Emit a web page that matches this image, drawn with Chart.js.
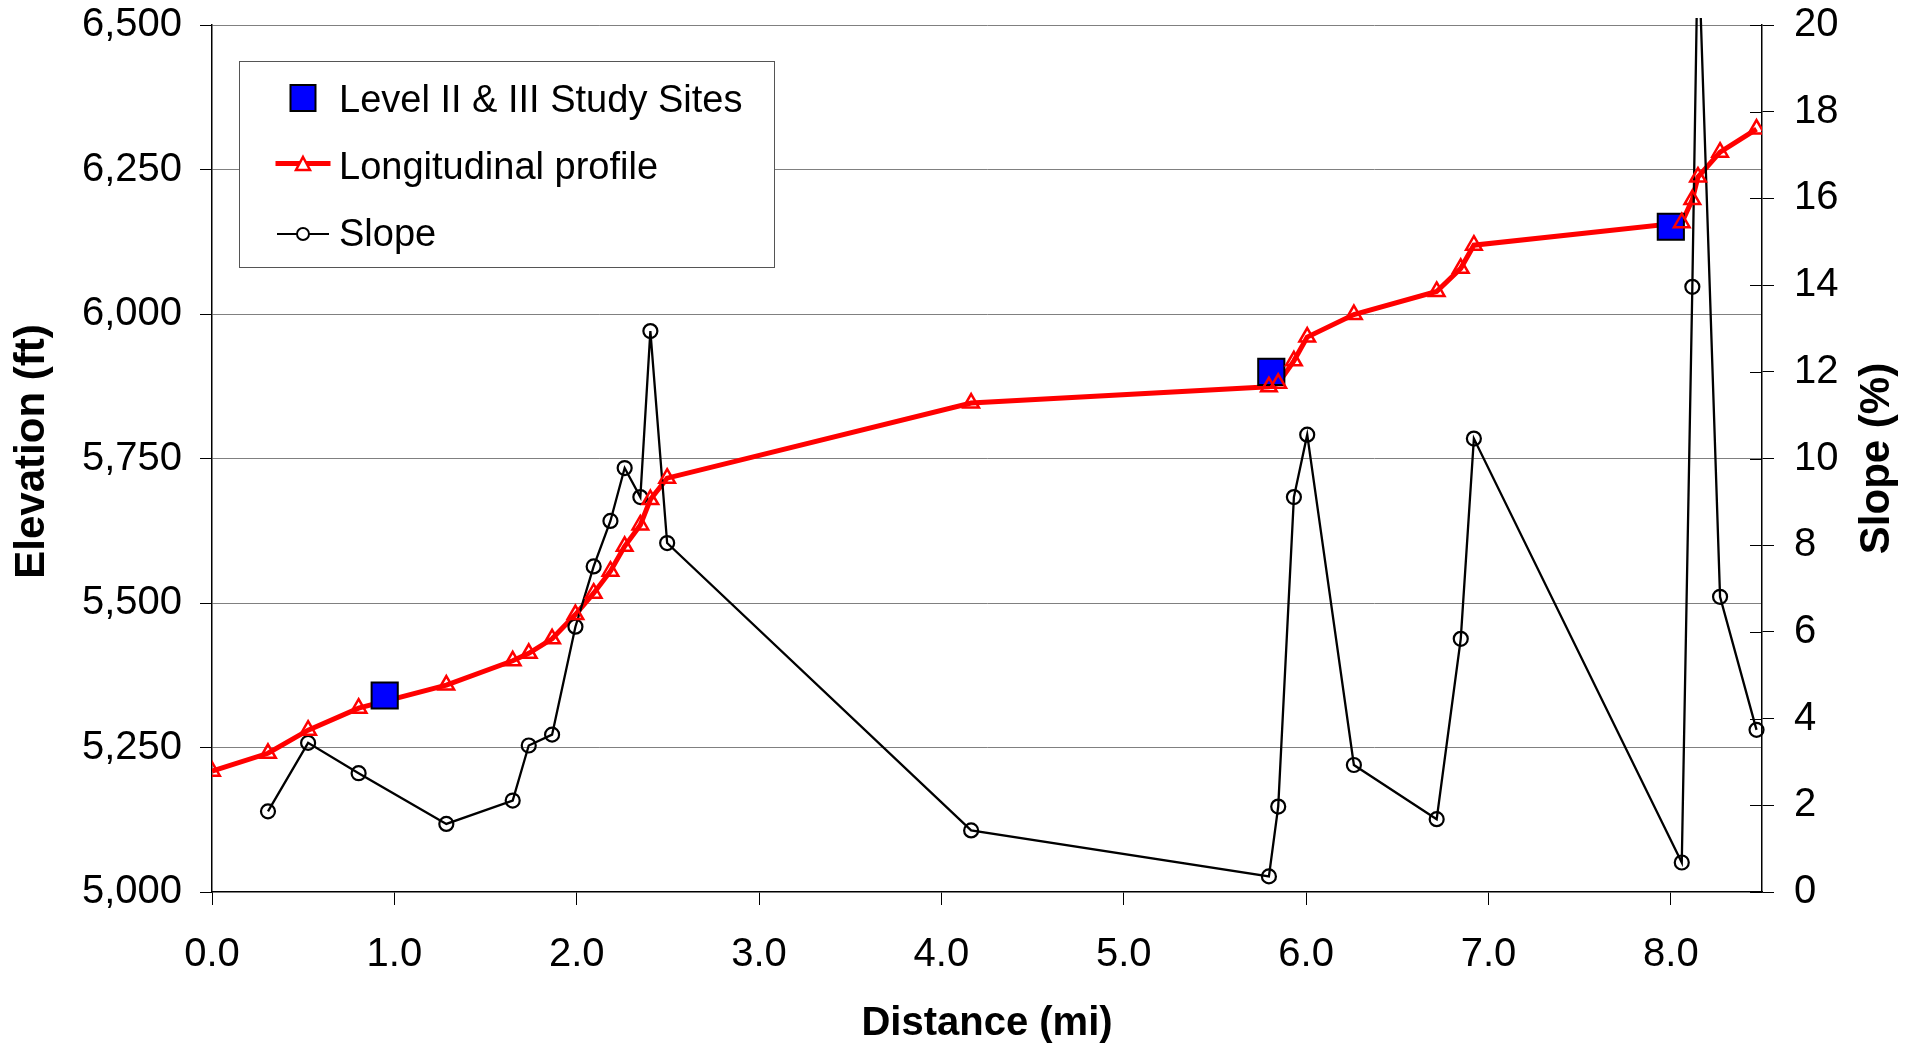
<!DOCTYPE html>
<html>
<head>
<meta charset="utf-8">
<title>Longitudinal profile and slope</title>
<script src="https://cdn.jsdelivr.net/npm/chart.js@4.4.1/dist/chart.umd.min.js"></script>
<style>
    html, body { margin: 0; padding: 0; background: #fff; }
    #wrap { width: 1907px; height: 1049px; }
</style>
</head>
<body>
<div id="wrap"><canvas id="profile-chart" width="1907" height="1049"></canvas></div>
<script>
// distance along the channel (mi), one entry per surveyed point
const distance = [0.0, 0.307, 0.527, 0.804, 1.285, 1.649, 1.737, 1.865, 1.993, 2.093,
    2.185, 2.263, 2.349, 2.404, 2.496, 4.163, 5.796, 5.847, 5.933, 6.006,
    6.262, 6.716, 6.848, 6.920, 8.060, 8.118, 8.149, 8.270, 8.470];
// longitudinal profile (ft)
const elevation = [5209, 5240, 5280, 5318, 5358, 5400, 5413, 5438, 5480, 5517,
    5555, 5598, 5635, 5679, 5716, 5846, 5874, 5880, 5919, 5960,
    5999, 6039, 6079, 6119, 6158, 6198, 6237, 6280, 6320];
// slope (%), no value at the first point
const slope = [null, 1.86, 3.44, 2.74, 1.57, 2.11, 3.38, 3.63, 6.12, 7.51,
    8.56, 9.78, 9.11, 12.94, 8.05, 1.42, 0.36, 1.97, 9.11, 10.55,
    2.93, 1.68, 5.84, 10.46, 0.68, 13.96, 22.1, 6.81, 3.74];
// Level II & III study sites
const siteDistance = [0.947, 5.809, 8.0];
const siteElevation = [5340, 5900, 6151];

// tick labels
const distanceTicks = [0, 1, 2, 3, 4, 5, 6, 7, 8];
const elevationTicks = [5000, 5250, 5500, 5750, 6000, 6250, 6500];
const slopeTicks = [0, 2, 4, 6, 8, 10, 12, 14, 16, 18, 20];

const FONT = "'Liberation Sans', Arial, sans-serif";
Chart.defaults.font.family = FONT;
Chart.defaults.color = '#000';

const profilePoints = distance.map((d, i) => ({ x: d, y: elevation[i] }));
const slopePoints = distance.map((d, i) => ({ x: d, y: slope[i] }));
const sitePoints = siteDistance.map((d, i) => ({ x: d, y: siteElevation[i] }));

// fixed axis sizes so the plot area lands where the original one is
const fixWidth = w => scale => {
    scale.width = w;
    scale.paddingTop = 0;
    scale.paddingBottom = 0;
};

// legend, y titles and the inner half of the right ticks
const decor = {
    id: 'decor',
    afterDraw(chart) {
        const ctx = chart.ctx;
        const area = chart.chartArea;
        const right = chart.scales.slope;
        ctx.save();

        ctx.strokeStyle = '#000';
        ctx.lineWidth = 1;
        right.ticks.forEach(t => {
            const y = Math.round(right.getPixelForValue(t.value)) + 0.5;
            ctx.beginPath();
            ctx.moveTo(area.right - 12, y);
            ctx.lineTo(area.right, y);
            ctx.stroke();
        });

        ctx.fillStyle = '#000';
        ctx.font = 'bold 42px ' + FONT;
        ctx.textAlign = 'center';
        ctx.textBaseline = 'middle';
        const midY = (area.top + area.bottom) / 2;
        ctx.save();
        ctx.translate(32, midY - 7);
        ctx.rotate(-Math.PI / 2);
        ctx.fillText('Elevation (ft)', 0, 0);
        ctx.restore();
        ctx.save();
        ctx.translate(chart.width - 30, midY);
        ctx.rotate(-Math.PI / 2);
        ctx.fillText('Slope (%)', 0, 0);
        ctx.restore();

        // legend box
        const bx = area.left + 27, by = area.top + 36, bw = 535, bh = 206;
        ctx.fillStyle = '#fff';
        ctx.fillRect(bx, by, bw, bh);
        ctx.strokeStyle = '#555';
        ctx.lineWidth = 1;
        ctx.strokeRect(bx + 0.5, by + 0.5, bw, bh);

        const sx = bx + 64;
        const tx = bx + 100;
        // study sites
        ctx.fillStyle = '#0000ff';
        ctx.strokeStyle = '#000';
        ctx.lineWidth = 2;
        ctx.fillRect(sx - 12.5, by + 24, 25, 26);
        ctx.strokeRect(sx - 12.5, by + 24, 25, 26);
        // longitudinal profile
        ctx.strokeStyle = '#ff0000';
        ctx.lineWidth = 5;
        ctx.beginPath();
        ctx.moveTo(sx - 27.5, by + 102.5);
        ctx.lineTo(sx + 27.5, by + 102.5);
        ctx.stroke();
        ctx.lineWidth = 2.5;
        ctx.fillStyle = '#fff';
        ctx.beginPath();
        ctx.moveTo(sx, by + 96);
        ctx.lineTo(sx + 7, by + 109);
        ctx.lineTo(sx - 7, by + 109);
        ctx.closePath();
        ctx.fill();
        ctx.stroke();
        // slope
        ctx.strokeStyle = '#000';
        ctx.lineWidth = 2;
        ctx.beginPath();
        ctx.moveTo(sx - 26, by + 173);
        ctx.lineTo(sx + 26, by + 173);
        ctx.stroke();
        ctx.beginPath();
        ctx.arc(sx, by + 173, 6, 0, Math.PI * 2);
        ctx.fill();
        ctx.stroke();

        ctx.fillStyle = '#000';
        ctx.font = '38px ' + FONT;
        ctx.textAlign = 'left';
        ctx.textBaseline = 'alphabetic';
        ctx.fillText('Level II & III Study Sites', tx, by + 51);
        ctx.fillText('Longitudinal profile', tx, by + 118);
        ctx.fillText('Slope', tx, by + 185);

        ctx.restore();
    }
};

new Chart(document.getElementById('profile-chart'), {
    type: 'line',
    data: {
        datasets: [
            {
                label: 'Level II & III Study Sites',
                data: sitePoints,
                showLine: false,
                pointStyle: 'rect',
                pointRadius: 18.5,
                pointBackgroundColor: '#0000ff',
                pointBorderColor: '#000',
                pointBorderWidth: 2,
                order: 2
            },
            {
                label: 'Longitudinal profile',
                data: profilePoints,
                borderColor: '#ff0000',
                borderWidth: 5,
                pointRadius: 0,
                order: 4
            },
            {
                label: 'Longitudinal profile markers',
                data: profilePoints,
                showLine: false,
                pointStyle: 'triangle',
                pointRadius: 9,
                pointBorderColor: '#ff0000',
                pointBackgroundColor: 'rgba(0,0,0,0)',
                pointBorderWidth: 2.5,
                order: 1
            },
            {
                label: 'Slope',
                data: slopePoints,
                yAxisID: 'slope',
                borderColor: '#000',
                borderWidth: 2.3,
                pointStyle: 'circle',
                pointRadius: 7,
                pointBorderColor: '#000',
                pointBackgroundColor: 'rgba(0,0,0,0)',
                pointBorderWidth: 2.2,
                clip: { left: 10, top: 7, right: 10, bottom: 10 },
                order: 3
            }
        ]
    },
    options: {
        responsive: false,
        devicePixelRatio: 1,
        animation: false,
        layout: { padding: { top: 25, left: 0, right: 0, bottom: 0 } },
        plugins: {
            legend: { display: false },
            tooltip: { enabled: false }
        },
        scales: {
            x: {
                type: 'linear',
                min: 0,
                max: 8.5,
                afterBuildTicks: scale => { scale.ticks = distanceTicks.map(v => ({ value: v })); },
                afterFit: scale => {
                    scale.height = 157;
                    scale.paddingLeft = 0;
                    scale.paddingRight = 0;
                },
                ticks: {
                    callback: v => v.toFixed(1),
                    font: { size: 40 },
                    padding: 26,
                    maxRotation: 0
                },
                grid: { drawOnChartArea: false, tickLength: 13, tickColor: '#000', tickWidth: 1 },
                border: { color: '#000', width: 1.5 },
                title: {
                    display: true,
                    text: 'Distance (mi)',
                    font: { size: 40, weight: 'bold' },
                    padding: { top: 0, bottom: 1 }
                }
            },
            y: {
                position: 'left',
                min: 5000,
                max: 6500,
                afterBuildTicks: scale => { scale.ticks = elevationTicks.map(v => ({ value: v })); },
                afterFit: fixWidth(212),
                ticks: {
                    callback: v => v.toLocaleString('en-US'),
                    font: { size: 40 },
                    padding: 18
                },
                grid: {
                    color: c => (c.tick && c.tick.value === 5000) ? 'rgba(0,0,0,0)' : '#808080',
                    lineWidth: 1,
                    tickLength: 12,
                    tickColor: '#000'
                },
                border: { color: '#000', width: 1.5 }
            },
            slope: {
                position: 'right',
                min: 0,
                max: 20,
                afterBuildTicks: scale => { scale.ticks = slopeTicks.map(v => ({ value: v })); },
                afterFit: fixWidth(145),
                ticks: {
                    font: { size: 40 },
                    padding: 20
                },
                grid: { drawOnChartArea: false, tickLength: 12, tickColor: '#000' },
                border: { color: '#000', width: 1.5 }
            }
        }
    },
    plugins: [decor]
});
</script>
</body>
</html>
